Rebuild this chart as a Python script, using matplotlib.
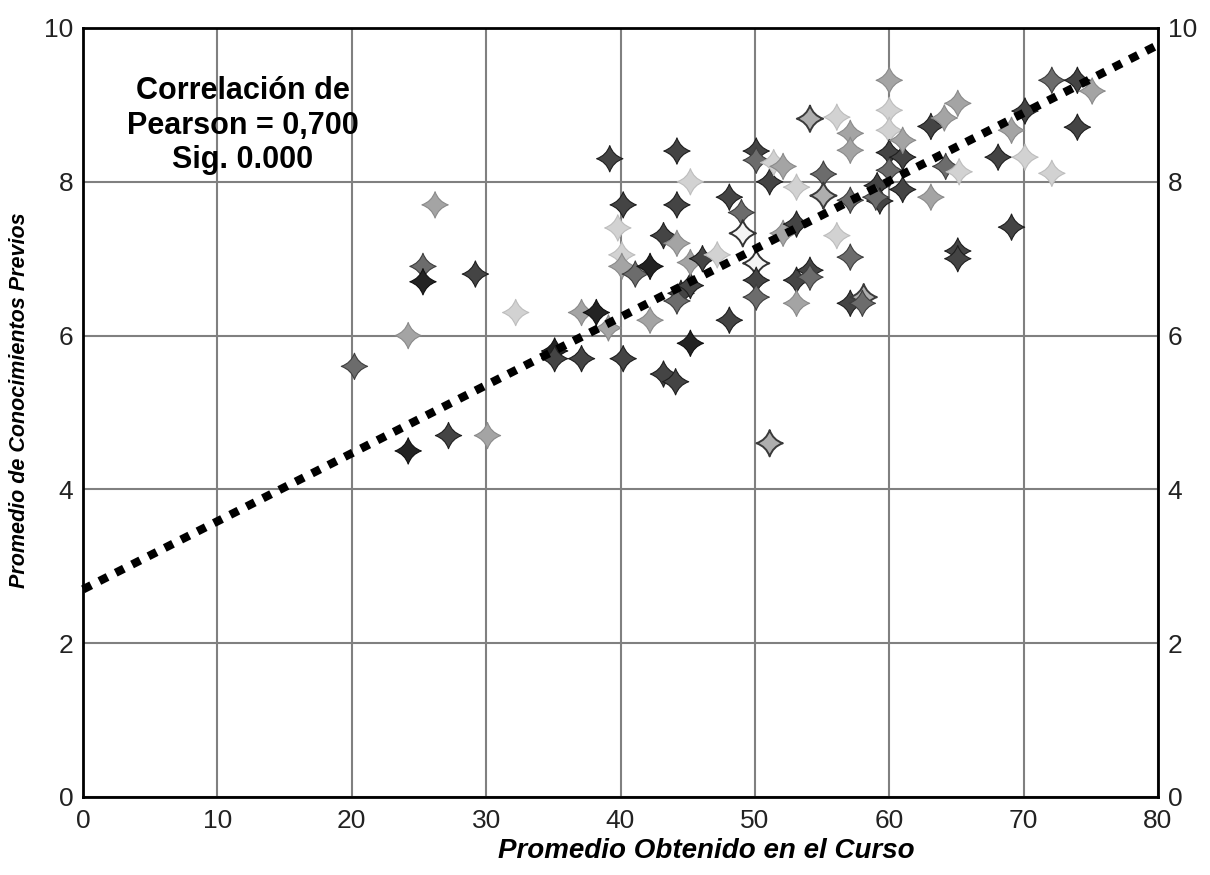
import numpy as np
import matplotlib
matplotlib.use("Agg")
import matplotlib.pyplot as plt
from matplotlib.path import Path

# ---------------- data ----------------
promedio_curso = [20.2, 24.2, 24.2, 25.3, 25.3, 26.2, 27.2, 29.2, 30.1, 32.2,
                  35.1, 35.1, 37.1, 37.1, 38.2, 39.1, 39.2, 40.2, 40.2, 39.8,
                  40.1, 40.1, 41.1, 42.2, 42.2, 43.2, 43.2, 44.1, 44.2, 44.2,
                  44.2, 44.5, 44.2, 45.2, 45.2, 45.2, 45.2, 46.1, 47.2, 48.1,
                  48.1, 49.0, 49.1, 50.1, 50.1, 50.1, 50.1, 50.1, 51.1, 51.1,
                  51.4, 52.1, 52.1, 53.1, 53.1, 53.1, 53.1, 54.1, 54.1, 54.1,
                  55.1, 55.1, 56.1, 56.1, 57.1, 57.1, 57.1, 57.1, 57.1, 58.1,
                  58.0, 59.1, 59.3, 60.0, 60.0, 60.0, 60.0, 60.0, 61.0, 61.0,
                  61.0, 63.1, 63.1, 64.1, 64.2, 65.1, 65.2, 65.1, 65.1, 68.1,
                  69.1, 69.1, 70.1, 70.1, 72.1, 72.1, 74.0, 74.0, 75.1, 59.0]
conocimientos_previos = [5.6, 4.5, 6.0, 6.9, 6.7, 7.7, 4.7, 6.8, 4.7, 6.3,
                         5.8, 5.7, 5.7, 6.3, 6.3, 6.1, 8.3, 7.7, 5.7, 7.4,
                         7.05, 6.9, 6.8, 6.9, 6.2, 7.3, 5.5, 5.4, 8.4, 7.7,
                         7.2, 6.55, 6.45, 6.65, 5.9, 8.0, 6.95, 7.0, 7.05, 7.8,
                         6.2, 7.6, 7.33, 8.4, 8.28, 6.94, 6.72, 6.5, 8.0, 4.6,
                         8.25, 8.2, 7.33, 7.45, 6.72, 6.42, 7.93, 8.82, 6.85, 6.76,
                         8.1, 7.82, 8.84, 7.3, 8.63, 8.41, 7.76, 7.02, 6.42, 6.5,
                         6.42, 7.95, 7.75, 9.32, 8.93, 8.67, 8.38, 8.15, 8.32, 8.54,
                         7.9, 8.72, 7.8, 8.83, 8.2, 9.02, 8.13, 7.1, 7.0, 8.32,
                         8.67, 7.41, 8.92, 8.32, 9.32, 8.11, 9.32, 8.71, 9.18, 7.8]
# tone category of each star: B black, D dark, M mid, L light, V very light,
# W white outlined, O light outlined
tono = ["M", "B", "L", "M", "B", "L", "D", "D", "L", "V",
        "B", "D", "D", "L", "B", "L", "D", "D", "D", "V",
        "V", "L", "M", "B", "L", "D", "D", "D", "D", "D",
        "L", "D", "M", "D", "B", "V", "L", "D", "V", "D",
        "D", "M", "W", "D", "M", "W", "D", "M", "D", "O",
        "V", "L", "L", "D", "D", "L", "V", "O", "D", "M",
        "M", "O", "V", "V", "L", "L", "M", "M", "D", "O",
        "M", "D", "D", "L", "V", "V", "D", "M", "D", "L",
        "D", "D", "L", "L", "M", "L", "V", "D", "D", "D",
        "L", "D", "D", "V", "M", "V", "D", "D", "L", "M"]

x_ticks = [0, 10, 20, 30, 40, 50, 60, 70, 80]
y_ticks = [0, 2, 4, 6, 8, 10]
recta_intercepto = 2.7
recta_pendiente = 0.0885
texto_corr = "Correlación de\nPearson = 0,700\nSig. 0.000"
x_label = "Promedio Obtenido en el Curso"
y_label = "Promedio de Conocimientos Previos"

# ---------------- style ----------------
plt.rcParams['font.family'] = ['Liberation Sans', 'DejaVu Sans']

estilo = {
    "B": dict(face="#232323", edge="#101010"),
    "D": dict(face="#444444", edge="#1e1e1e"),
    "M": dict(face="#6c6c6c", edge="#3e3e3e"),
    "L": dict(face="#a4a4a4", edge="#8a8a8a"),
    "V": dict(face="#d2d2d2", edge="#bdbdbd"),
    "W": dict(face="#f4f4f4", edge="#333333"),
    "O": dict(face="#aeaeae", edge="#3a3a3a"),
}

c = 0.25
star = Path(
    [(0, 1), (c, c), (1, 0), (c, -c), (0, -1), (-c, -c), (-1, 0), (-c, c), (0, 1), (0, 1)],
    [Path.MOVETO, Path.CURVE3, Path.CURVE3, Path.CURVE3, Path.CURVE3,
     Path.CURVE3, Path.CURVE3, Path.CURVE3, Path.CURVE3, Path.CLOSEPOLY])

fig = plt.figure(figsize=(12.1, 8.75), dpi=100)
ax = fig.add_axes([83 / 1210, 78 / 875, 1075 / 1210, 769 / 875])

xs = np.array(promedio_curso)
ys = np.array(conocimientos_previos)
faces = [estilo[t]["face"] for t in tono]
edges = [estilo[t]["edge"] for t in tono]
lws = [1.4 if t in ("W", "O") else 0.8 for t in tono]
ax.scatter(xs, ys, s=360, marker=star, c=faces, edgecolors=edges,
           linewidths=lws, zorder=3)

xl = np.array([x_ticks[0], x_ticks[-1]])
ax.plot(xl, recta_intercepto + recta_pendiente * xl, color="black",
        lw=6, linestyle=(0, (1.1, 1.1)), dash_capstyle="butt", zorder=4,
        clip_on=False)

ax.text(11.9, 8.73, texto_corr, ha="center", va="center", fontsize=22,
        fontweight="bold", linespacing=1.2, zorder=5)

ax.set_xlim(0, 80)
ax.set_ylim(0, 10)
ax.set_xticks(x_ticks)
ax.set_yticks(y_ticks)
ax.grid(True, color="#808080", lw=1.5, zorder=0)
ax.set_axisbelow(True)
ax.tick_params(axis="both", length=0, labelsize=19, labelcolor="#222222",
               labelright=True)
ax.tick_params(axis="x", pad=9)
ax.tick_params(axis="y", pad=7)
for sp in ax.spines.values():
    sp.set_color("black")
    sp.set_linewidth(2)

ax.set_xlabel(x_label, fontsize=20, fontweight="bold", fontstyle="italic")
ax.xaxis.set_label_coords(0.58, -0.053)
ax.set_ylabel(y_label, fontsize=15.5, fontweight="bold", fontstyle="italic")
ax.yaxis.set_label_coords(-0.049, 0.516)

fig.savefig("out.png", dpi=100)
